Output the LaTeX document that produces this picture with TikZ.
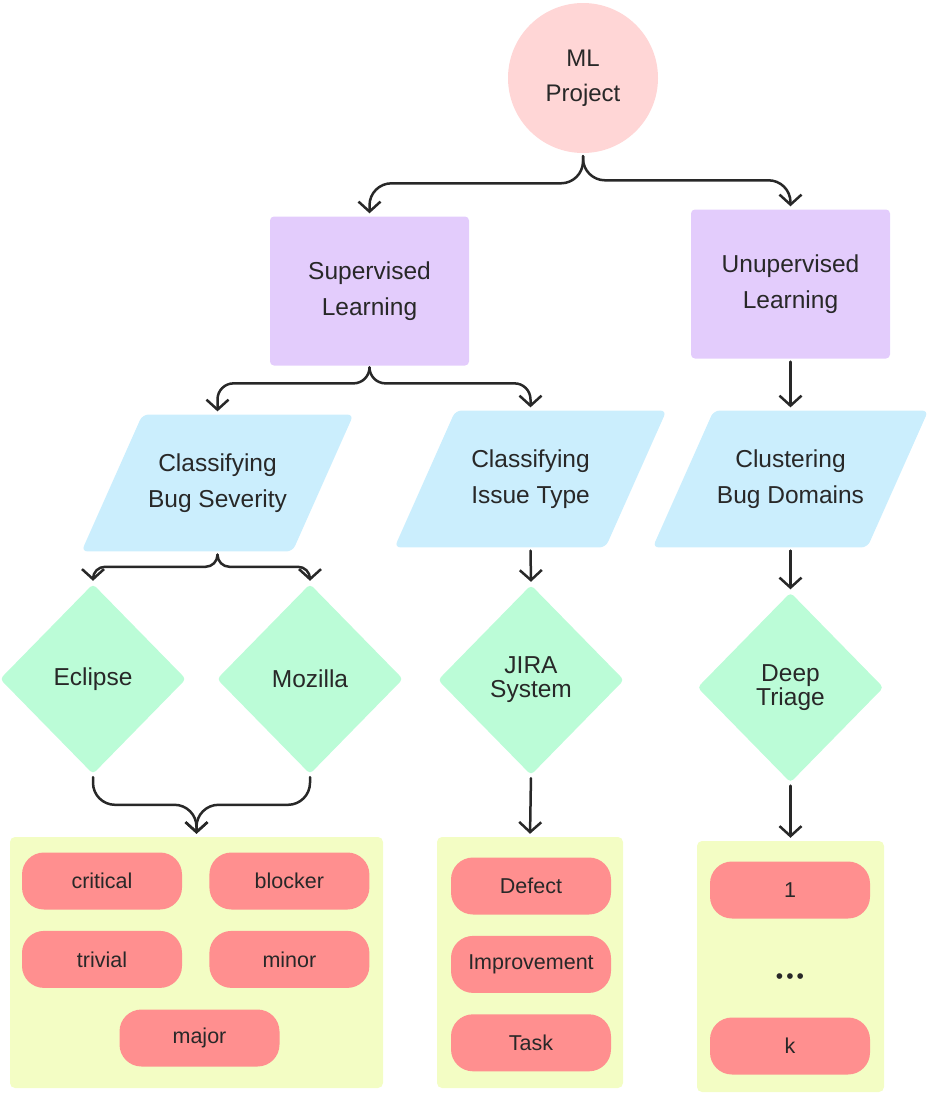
\documentclass[tikz,border=0pt]{standalone}
\usepackage{fontspec}
\setmainfont{Liberation Sans}
\usetikzlibrary{positioning, shapes.geometric, arrows.meta}
\definecolor{my_pink}{RGB}{255, 214, 214}
\definecolor{my_lilac}{RGB}{227, 204, 252}
\definecolor{my_sky}{RGB}{203, 238, 253}
\definecolor{my_mint}{RGB}{187, 252, 215}
\definecolor{my_lime}{RGB}{243, 253, 196}
\definecolor{my_salmon}{RGB}{255, 143, 143}
\definecolor{my_ink}{RGB}{40, 40, 40}
\tikzset {
  mlnode/.style = {circle, fill=my_pink, minimum size=150pt, text=my_ink, align=center, font=\fontsize{24}{35}\selectfont},
  learnbox/.style = {rectangle, rounded corners=4pt, fill=my_lilac, minimum width=199pt, minimum height=149pt, text=my_ink, align=center, font=\fontsize{24.5}{36}\selectfont},
  taskbox/.style = {trapezium, trapezium left angle=66, trapezium right angle=114, trapezium stretches body, rounded corners=6pt, fill=my_sky, inner ysep=39pt, minimum width=272pt, minimum height=135pt, text=my_ink, align=center, font=\fontsize{24.5}{36}\selectfont},
  sourcebox/.style = {diamond, rounded corners=4pt, fill=my_mint, minimum width=186pt, minimum height=190pt, inner sep=0pt, text=my_ink, align=center, font=\fontsize{24.5}{24}\selectfont},
  groupbox/.style = {rectangle, rounded corners=5pt, fill=my_lime, minimum height=251pt},
  labelpill/.style = {rectangle, rounded corners=22pt, fill=my_salmon, minimum width=160pt, minimum height=57pt, text=my_ink, font=\fontsize{21.5}{26}\selectfont},
  line/.style = {-{Straight Barb[length=10pt, width=22pt]}, line width=2.5pt, color=my_ink, line cap=round, line join=round, shorten <=3pt, shorten >=3pt},
  brace/.style = {line, rounded corners=#1},
}

\begin{document}
\begin{tikzpicture}[x=1pt, y=-1pt]
    \useasboundingbox (0,0) rectangle (929,1093);

    % top of the tree
    \node[mlnode] (ml) at (583,78) {ML\\Project};
    \node[learnbox] (sl) at (369.5,291) {Supervised\\Learning};
    \node[learnbox] (ul) at (790.5,284) {Unupervised\\Learning};

    % tasks
    \node[taskbox] (bs) at (217.5,483) {Classifying\\Bug Severity};
    \node[taskbox] (it) at (530.5,479) {Classifying\\Issue Type};
    \node[taskbox] (cb) at (790.5,479) {Clustering\\Bug Domains};

    % data sources
    \node[sourcebox] (ec) at (93,679) {Eclipse};
    \node[sourcebox] (mz) at (310,679) {Mozilla};
    \node[sourcebox] (jr) at (531,680) {JIRA\\System};
    \node[sourcebox] (dt) at (790.5,687.5) {Deep\\Triage};

    % label groups
    \node[groupbox, minimum width=373pt] (sev) at (196.5,962.5) {};
    \node[groupbox, minimum width=186pt] (typ) at (530,962.5) {};
    \node[groupbox, minimum width=187pt] (dom) at (790.5,966.5) {};

    \node[labelpill] (critical) at (102,881) {critical};
    \node[labelpill, right=27pt of critical] (blocker) {blocker};
    \node[labelpill, below=21pt of critical] (trivial) {trivial};
    \node[labelpill, right=27pt of trivial] (minor) {minor};
    \node[labelpill] (major) at (199.5,1038) {major};

    \node[labelpill] (defect) at (531,886) {Defect};
    \node[labelpill, below=21pt of defect] (improvement) {Improvement};
    \node[labelpill, below=21pt of improvement] (tasklbl) {Task};

    \node[labelpill] (one) at (790,890) {1};
    \node[font=\fontsize{21}{21}\selectfont, text=my_ink] (dots) at (790,979) {•\hspace{3pt}•\hspace{3pt}•};
    \node[labelpill] (kth) at (790,1046) {k};

    % connectors
    \draw[brace=22pt] (ml.south) |- ([yshift=33pt]sl.north) -- (sl.north);
    \draw[brace=22pt] (ml.south) |- ([yshift=29pt]ul.north) -- (ul.north);
    \draw[brace=16pt] (sl.south) |- ([yshift=31pt]bs.center |- bs.north) -- (bs.center |- bs.north);
    \draw[brace=16pt] (sl.south) |- ([yshift=27pt]it.center |- it.north) -- (it.center |- it.north);
    \draw[line] (ul.south) -- (cb.center |- cb.north);
    \draw[brace=12pt] (bs.center |- bs.south) |- ([yshift=17pt]ec.north) -- (ec.north);
    \draw[brace=12pt] (bs.center |- bs.south) |- ([yshift=17pt]mz.north) -- (mz.north);
    \draw[line] (it.center |- it.south) -- (jr.north);
    \draw[line] (cb.center |- cb.south) -- (dt.north);
    \draw[brace=22pt] (ec.south) |- ([yshift=32pt]sev.north) -- (sev.north);
    \draw[brace=22pt] (mz.south) |- ([yshift=32pt]sev.north) -- (sev.north);
    \draw[line] (jr.south) -- (typ.north);
    \draw[line] (dt.south) -- (dom.north);

\end{tikzpicture}
\end{document}
